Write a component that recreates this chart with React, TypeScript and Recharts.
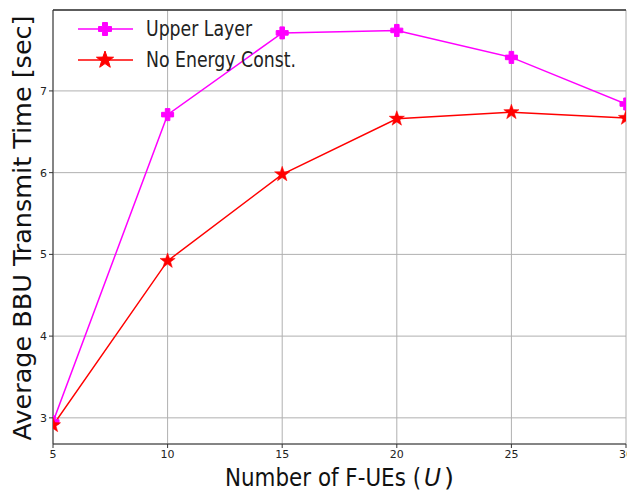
import React from 'react';
import { LineChart, Line, XAxis, YAxis, CartesianGrid, ReferenceLine } from 'recharts';

const users = [5, 10, 15, 20, 25, 30];
const upperLayer = [2.95, 6.71, 7.71, 7.74, 7.41, 6.84];
const noEnergy = [2.91, 4.92, 5.98, 6.66, 6.74, 6.67];
const xTicks = [5, 10, 15, 20, 25, 30];
const yTicks = [3, 4, 5, 6, 7];

const data = users.map((u, i) => ({ u, upper: upperLayer[i], noEnergy: noEnergy[i] }));

const FONT = '"DejaVu Sans", sans-serif';
const MAGENTA = '#ff00ff';
const RED = '#ff0000';
const SPINE = '#333333';

function plusPath(cx: number, cy: number, r: number) {
  const a = r * 0.38;
  return `M${cx - a},${cy - r} L${cx + a},${cy - r} L${cx + a},${cy - a} L${cx + r},${cy - a} L${cx + r},${cy + a} L${cx + a},${cy + a} L${cx + a},${cy + r} L${cx - a},${cy + r} L${cx - a},${cy + a} L${cx - r},${cy + a} L${cx - r},${cy - a} L${cx - a},${cy - a} Z`;
}

function starPath(cx: number, cy: number, r: number) {
  const inner = r * 0.4;
  let d = '';
  for (let i = 0; i < 10; i++) {
    const rad = i % 2 === 0 ? r : inner;
    const ang = -Math.PI / 2 + (i * Math.PI) / 5;
    d += `${i === 0 ? 'M' : 'L'}${cx + rad * Math.cos(ang)},${cy + rad * Math.sin(ang)} `;
  }
  return d + 'Z';
}

function PlusDot(props: any) {
  const { cx, cy } = props;
  if (cx == null || cy == null) return null;
  return <path d={plusPath(cx, cy, 6)} fill={MAGENTA} stroke={MAGENTA} strokeWidth={1} strokeLinejoin="round" />;
}

function StarDot(props: any) {
  const { cx, cy } = props;
  if (cx == null || cy == null) return null;
  return <path d={starPath(cx, cy, 8)} fill={RED} stroke={RED} strokeWidth={0.5} />;
}

function XLabel() {
  return (
    <g fontFamily={FONT} fontSize={24} fill="#111">
      <text x={225} y={486} textLength={196} lengthAdjust="spacingAndGlyphs">Number of F-UEs (</text>
      <text x={424} y={486} fontStyle="italic" textLength={17} lengthAdjust="spacingAndGlyphs">U</text>
      <text x={444} y={486} textLength={10} lengthAdjust="spacingAndGlyphs">)</text>
    </g>
  );
}

function YLabel() {
  return (
    <text x={0} y={0} transform="translate(31,228) rotate(-90)" textAnchor="middle" fontFamily={FONT} fontSize={24} fill="#111" textLength={425} lengthAdjust="spacingAndGlyphs">
      Average BBU Transmit Time [sec]
    </text>
  );
}

function LegendBox() {
  const items = [
    { label: 'Upper Layer', color: MAGENTA, kind: 'plus', w: 106 },
    { label: 'No Energy Const.', color: RED, kind: 'star', w: 150 },
  ];
  return (
    <svg width={260} height={70} style={{ position: 'absolute', left: 76, top: 14 }}>
      {items.map((it, i) => {
        const y = 15 + i * 31;
        return (
          <g key={it.label}>
            <line x1={2} y1={y} x2={57} y2={y} stroke={it.color} strokeWidth={1.5} />
            <path d={it.kind === 'plus' ? plusPath(29, y, 6.5) : starPath(29, y, 9)} fill={it.color} stroke={it.color} />
            <text x={70} y={y + 7} fontFamily={FONT} fontSize={21} fill="#222" textLength={it.w} lengthAdjust="spacingAndGlyphs">
              {it.label}
            </text>
          </g>
        );
      })}
    </svg>
  );
}

export default function App() {
  return (
    <div style={{ position: 'absolute', left: 0, top: 0, width: 627, height: 492, overflow: 'hidden', background: '#fff' }}>
      <LineChart width={640} height={492} data={data} margin={{ top: 10, right: 14, bottom: 18, left: 0 }}>
        <CartesianGrid stroke="#b0b0b0" strokeWidth={1} />
        <XAxis
          dataKey="u"
          type="number"
          domain={[5, 30]}
          ticks={xTicks}
          allowDataOverflow
          stroke={SPINE}
          tick={{ fill: '#222', fontSize: 11, fontFamily: FONT }}
          tickSize={4}
          height={30}
          label={<XLabel />}
        />
        <YAxis
          type="number"
          domain={[2.68, 7.99]}
          ticks={yTicks}
          allowDataOverflow
          width={53}
          stroke={SPINE}
          tick={{ fill: '#222', fontSize: 11, fontFamily: FONT }}
          tickSize={4}
          label={<YLabel />}
        />
        <ReferenceLine y={7.99} stroke={SPINE} strokeWidth={1.5} />
        <Line type="linear" dataKey="upper" stroke={MAGENTA} strokeWidth={1.5} dot={<PlusDot />} isAnimationActive={false} />
        <Line type="linear" dataKey="noEnergy" stroke={RED} strokeWidth={1.5} dot={<StarDot />} isAnimationActive={false} />
      </LineChart>
      <LegendBox />
    </div>
  );
}
